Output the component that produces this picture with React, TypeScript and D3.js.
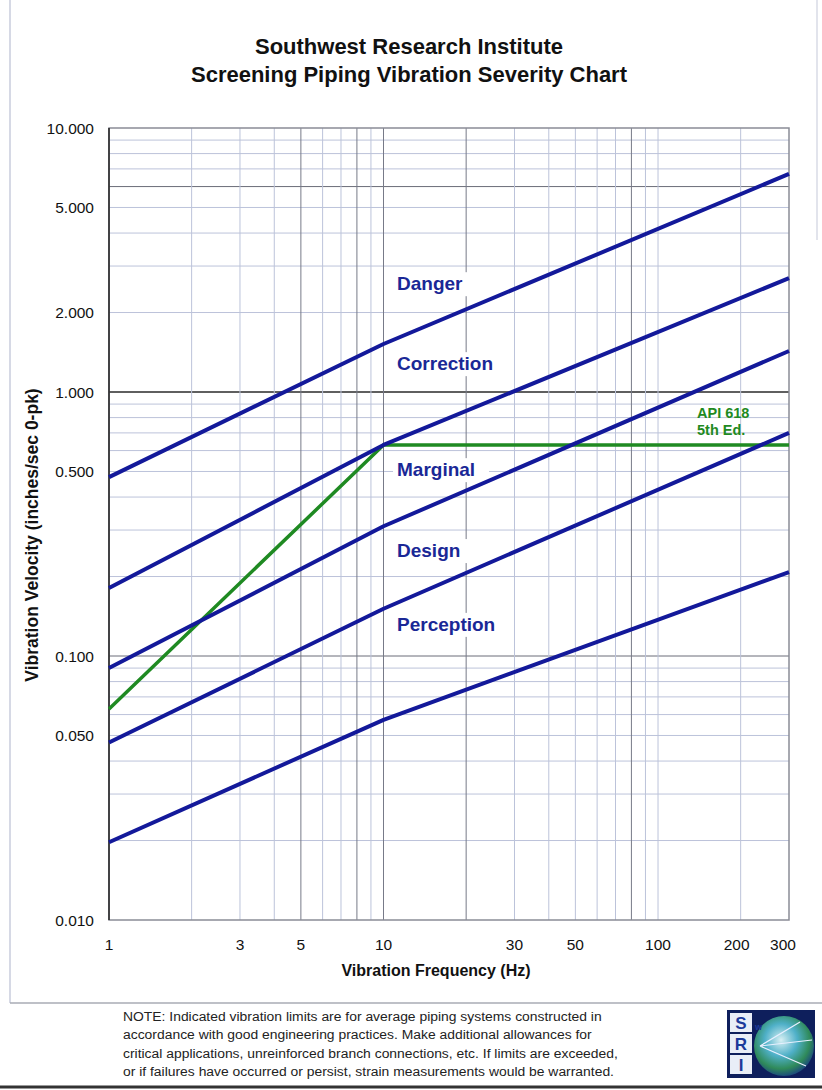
import * as d3 from 'd3';

const FONT = "'Liberation Sans', Arial, Helvetica, sans-serif";

// severity lines: velocity (in/s 0-pk) at each frequency (Hz)
const freqs = [1, 10, 300];
const danger = [0.476, 1.52, 6.7];
const correction = [0.181, 0.63, 2.7];
const marginal = [0.09, 0.31, 1.43];
const design = [0.047, 0.151, 0.7];
const perception = [0.0197, 0.0573, 0.208];

// API 618 5th Ed. limit
const apiFreqs = [1, 10, 300];
const apiValues = [0.063, 0.63, 0.63];

const zoneNames = ['Danger', 'Correction', 'Marginal', 'Design', 'Perception'];
const zoneLabelValues = [2.43, 1.21, 0.48, 0.237, 0.1245];
const zoneLabelFreq = 11.2;

const xTicks = [1, 3, 5, 10, 30, 50, 100, 200, 300];
const yTicks = [10, 5, 2, 1, 0.5, 0.1, 0.05, 0.01];

const xGrid = [2, 3, 4, 5, 6, 7, 8, 9, 10, 20, 30, 40, 50, 60, 70, 80, 90, 100, 200];
const xGridDark = [5, 8, 10, 20, 80];
const yGridDark = [0.1, 1, 6];

const noteLines = [
  'NOTE: Indicated vibration limits are for average piping systems constructed in',
  'accordance with good engineering practices.  Make additional allowances for',
  'critical applications, unreinforced branch connections, etc. If limits are exceeded,',
  'or if failures have occurred or persist, strain measurements would be warranted.',
];

export default function App() {
  const W = 822;
  const H = 1090;
  const x = d3.scaleLog().domain([1, 300]).range([109, 789]);
  const y = d3.scaleLog().domain([0.01, 10]).range([920, 128]);

  const yGrid: number[] = [];
  [0.01, 0.1, 1].forEach((dec) => {
    for (let k = 2; k <= 9; k++) yGrid.push(+(dec * k).toPrecision(3));
  });
  yGrid.push(0.1, 1);

  const line = d3
    .line<[number, number]>()
    .x((d) => x(d[0]))
    .y((d) => y(d[1]));

  const zones = [danger, correction, marginal, design, perception];
  const fmt = d3.format('.3f');

  const navy = '#13199a';
  const labelNavy = '#1a2896';
  const green = '#1f8a22';

  return (
    <svg
      width={W}
      height={H}
      style={{ position: 'absolute', left: 0, top: 0, display: 'block', background: '#fff' }}
      fontFamily={FONT}
    >
      {/* page frame */}
      <line x1={10} x2={10} y1={0} y2={1003} stroke="#c9cddd" strokeWidth={1.5} />
      <line x1={817} x2={817} y1={0} y2={240} stroke="#d8dbe6" strokeWidth={1.5} />
      <line x1={10} x2={822} y1={1003} y2={1003} stroke="#a9abb4" strokeWidth={1.5} />
      <line x1={0} x2={822} y1={1087} y2={1087} stroke="#333" strokeWidth={3} />

      {/* title */}
      <text x={409} y={54} textAnchor="middle" fontSize={22} fontWeight="bold" fill="#111">
        Southwest Research Institute
      </text>
      <text x={409} y={82} textAnchor="middle" fontSize={22} fontWeight="bold" fill="#111">
        Screening Piping Vibration Severity Chart
      </text>

      {/* grid */}
      {yGrid.map((v, i) => (
        <line
          key={'yg' + i}
          x1={x(1)}
          x2={x(300)}
          y1={y(v)}
          y2={y(v)}
          stroke={yGridDark.includes(v) ? (v === 1 ? '#2a2a2a' : '#6a6c78') : '#bcc3da'}
          strokeWidth={v === 1 ? 1.4 : 1}
        />
      ))}
      {xGrid.map((f) => (
        <line
          key={'xg' + f}
          x1={x(f)}
          x2={x(f)}
          y1={y(10)}
          y2={y(0.01)}
          stroke={xGridDark.includes(f) ? '#777a88' : '#bcc3da'}
          strokeWidth={1}
        />
      ))}

      {/* plot border */}
      <rect
        x={x(1)}
        y={y(10)}
        width={x(300) - x(1)}
        height={y(0.01) - y(10)}
        fill="none"
        stroke="#8a8c96"
        strokeWidth={1.5}
      />
      <line x1={x(1)} x2={x(1)} y1={y(10)} y2={y(0.01)} stroke="#222" strokeWidth={1.5} />

      {/* zone labels with white backing */}
      {zoneNames.map((name, i) => {
        const w = name.length * 11;
        return (
          <g key={name}>
            <rect x={x(zoneLabelFreq) - 4} y={y(zoneLabelValues[i]) - 18} width={w + 8} height={24} fill="#fff" />
            <text
              x={x(zoneLabelFreq)}
              y={y(zoneLabelValues[i])}
              fontSize={19}
              fontWeight="bold"
              fill={labelNavy}
            >
              {name}
            </text>
          </g>
        );
      })}

      {/* API 618 line */}
      <path
        d={line(apiFreqs.map((f, i) => [f, apiValues[i]] as [number, number])) || ''}
        fill="none"
        stroke={green}
        strokeWidth={3.5}
      />
      <text x={697} y={y(0.8)} fontSize={14.5} fontWeight="bold" fill={green}>
        API 618
      </text>
      <text x={697} y={y(0.69)} fontSize={14.5} fontWeight="bold" fill={green}>
        5th Ed.
      </text>

      {/* severity lines */}
      {zones.map((vals, i) => (
        <path
          key={'z' + i}
          d={line(freqs.map((f, j) => [f, vals[j]] as [number, number])) || ''}
          fill="none"
          stroke={navy}
          strokeWidth={4}
          strokeLinejoin="round"
        />
      ))}

      {/* y tick labels */}
      {yTicks.map((v) => (
        <text key={'yt' + v} x={94} y={y(v) + 5.5} textAnchor="end" fontSize={15.5} fill="#111">
          {fmt(v)}
        </text>
      ))}
      {/* x tick labels */}
      {xTicks.map((f) => (
        <text
          key={'xt' + f}
          x={x(f) - (f === 300 ? 6 : f === 200 ? 4 : 0)}
          y={950}
          textAnchor="middle"
          fontSize={15.5}
          fill="#111"
        >
          {f}
        </text>
      ))}

      {/* axis titles */}
      <text x={436} y={976} textAnchor="middle" fontSize={16} fontWeight="bold" fill="#111">
        Vibration Frequency (Hz)
      </text>
      <text
        transform="translate(38,535) rotate(-90)"
        textAnchor="middle"
        fontSize={17.5}
        fontWeight="bold"
        fill="#111"
      >
        Vibration Velocity (inches/sec  0-pk)
      </text>

      {/* note */}
      <g transform="translate(123,0) scale(1.045,1)">
        {noteLines.map((t, i) => (
          <text key={'n' + i} x={0} y={1021 + i * 18.3} fontSize={13.3} fill="#222">
            {t}
          </text>
        ))}
      </g>

      {/* SwRI logo */}
      <defs>
        <radialGradient id="globe" cx="45%" cy="40%" r="60%">
          <stop offset="0%" stopColor="#d8f0f4" />
          <stop offset="45%" stopColor="#4fb0c8" />
          <stop offset="80%" stopColor="#2f8a5a" />
          <stop offset="100%" stopColor="#1d4f7a" />
        </radialGradient>
      </defs>
      <rect x={727} y={1010} width={88} height={68} fill="#0e1f5c" />
      <circle cx={784} cy={1046} r={30} fill="url(#globe)" />
      <path d="M760,1046 L800,1022 M760,1046 L812,1040 M760,1046 L806,1066" stroke="#e8f0ff" strokeWidth={1.2} fill="none" />
      {['S', 'R', 'I'].map((ch, i) => (
        <g key={ch}>
          <rect x={730} y={1013 + i * 21} width={22} height={19} fill="#e9eef7" />
          <text x={741} y={1029 + i * 21} textAnchor="middle" fontSize={17} fontWeight="bold" fill="#1d3a9a">
            {ch}
          </text>
        </g>
      ))}
      <text x={755} y={1030} fontSize={9} fontWeight="bold" fill="#1d3a9a">
        w
      </text>
    </svg>
  );
}
